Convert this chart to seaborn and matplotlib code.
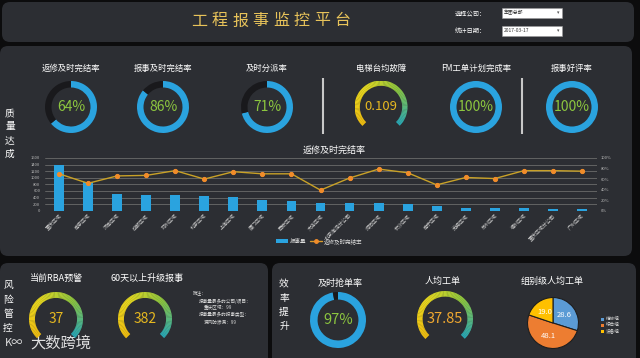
import numpy as np
import pandas as pd
import matplotlib
matplotlib.use('Agg')
import matplotlib.pyplot as plt
import seaborn as sns
from matplotlib.patches import FancyBboxPatch, Wedge, Rectangle
from matplotlib.colors import LinearSegmentedColormap

# ---------------- data ----------------
regions = ["重庆区域", "南京区域", "济南区域", "成都区域", "郑州区域", "北京区域",
           "上海区域", "厦门区域", "西安区域", "大连区域", "北京海淀分公司", "沈阳区域",
           "长沙区域", "南宁区域", "无锡区域", "苏州区域", "福州区域", "重庆区域分公司",
           "广州区域"]
report_counts = [1390, 857, 520, 490, 480, 440, 420, 327, 296, 245, 245, 225,
                 195, 143, 80, 80, 90, 60, 50]
repair_rate = [70, 52, 66, 67, 76, 60, 74, 70, 70, 39, 62, 79, 72, 49, 63,
               61, 76, 76, 75]
left_ticks = [0, 200, 400, 600, 800, 1000, 1200, 1400, 1600]
right_ticks = [0, 20, 40, 60, 80, 100]

quality_titles = ["返修及时完结率", "报事及时完结率", "及时分派率", "FM工单计划完成率", "报事好评率"]
quality_values = [64, 86, 71, 100, 100]
elevator_title = "电梯台均故障"
elevator_value = "0.109"

risk_titles = ["当前RBA预警", "60天以上升级报事"]
risk_values = ["37", "382"]
note_lines = ["附注：", "报事量最多的公司/项目：", "重庆区域：99",
              "报事量最多的报事类型：", "漏风防渗漏：99"]

grab_title = "及时抢单率"
grab_value = 97
avg_title = "人均工单"
avg_value = "37.85"
pie_title = "组别级人均工单"
pie_groups = ["维修组", "综合组", "设备组"]
pie_values = [28.6, 48.1, 19.0]

# ---------------- style ----------------
sns.set_theme(style='dark')
plt.rcParams['font.family'] = ['Noto Sans CJK SC', 'DejaVu Sans']

W, H = 640, 358
fig = plt.figure(figsize=(6.4, 3.58), dpi=100)
fig.patch.set_facecolor('#0c0c0d')

PANEL = '#2c2e33'
BLUE = '#2aa3df'
DARK = '#19191c'
GREEN_TXT = '#8cc63f'
GOLD_TXT = '#e6b820'

bg = fig.add_axes([0, 0, 1, 1])
bg.set_xlim(0, W)
bg.set_ylim(H, 0)
bg.axis('off')
bg.set_facecolor('none')


def panel(x0, y0, x1, y1, r=8):
    bg.add_patch(FancyBboxPatch((x0 + r, y0 + r), x1 - x0 - 2 * r, y1 - y0 - 2 * r,
                                boxstyle=f"round,pad={r}", fc=PANEL, ec='none'))


panel(2, 2, 634, 42)
panel(0, 46, 632, 256)
panel(0, 263, 268, 370)
panel(272, 263, 636, 370)

# header title (letter spaced)
title = "工程报事监控平台"
for i, ch in enumerate(title):
    bg.text(199 + i * 20.5, 21, ch, color='#e8c35a', fontsize=11.5, ha='center', va='center')

bg.text(455, 13, "选择公司：", color='white', fontsize=4.5, va='center')
bg.text(455, 31, "统计日期：", color='white', fontsize=4.5, va='center')
for y, txt in [(13, "集团总部"), (31, "2017-03-17")]:
    bg.add_patch(Rectangle((502, y - 5), 60, 10, fc='white', ec='#999', lw=0.4))
    bg.text(504, y, txt, color='#333', fontsize=3.5, va='center')
    bg.text(558, y, "▾", color='#555', fontsize=3.5, va='center', ha='center')

# vertical section labels
for i, ch in enumerate("质量达成"):
    bg.text(10, 113 + i * 13.5, ch, color='white', fontsize=7, ha='center', va='center')
for i, ch in enumerate("风险管控"):
    bg.text(8, 285 + i * 14.5, ch, color='white', fontsize=7, ha='center', va='center')
for i, ch in enumerate("效率提升"):
    bg.text(284, 284 + i * 14, ch, color='white', fontsize=7, ha='center', va='center')

# separators
for x in (323, 522):
    bg.plot([x, x], [78, 134], color='#c8c8c8', lw=1.5, solid_capstyle='butt')


def circle_ax(cx, cy, r):
    a = fig.add_axes([(cx - r) / W, 1 - (cy + r) / H, 2 * r / W, 2 * r / H])
    a.set_xlim(-1, 1)
    a.set_ylim(-1, 1)
    a.set_aspect('equal')
    a.axis('off')
    a.set_facecolor('none')
    return a


def donut(cx, cy, r, val, width=0.25, size=10):
    a = circle_ax(cx, cy, r)
    a.pie([val, 100 - val], colors=[BLUE, DARK], startangle=90, counterclock=False,
          radius=1, wedgeprops=dict(width=width, edgecolor='none'))
    a.set_xlim(-1, 1)
    a.set_ylim(-1, 1)
    a.text(0, 0, f"{val}%", color=GREEN_TXT, fontsize=size, ha='center', va='center')
    return a


gcmap = LinearSegmentedColormap.from_list('g', ['#eebc10', '#e9d81e', '#8cc63f', '#2aa8b4'])


def gauge(cx, cy, r, txt, width=0.22, size=10, color=GOLD_TXT):
    a = circle_ax(cx, cy, r)
    N = 90
    for k in range(N):
        t1 = 225 - 270 * k / N
        t0 = 225 - 270 * (k + 1) / N
        a.add_patch(Wedge((0, 0), 1, t0, t1 + 0.6, width=width, fc=gcmap(k / (N - 1)), ec='none'))
    a.text(0, 0, txt, color=color, fontsize=size, ha='center', va='center')
    return a


# top row
top_x = [71, 163, 267, 476, 572]
for x, t, v in zip(top_x, quality_titles, quality_values):
    bg.text(x, 68, t, color='white', fontsize=6, ha='center', va='center')
    donut(x, 107, 26, v)
bg.text(381, 68, elevator_title, color='white', fontsize=6, ha='center', va='center')
gauge(381, 107, 26.5, elevator_value, width=0.2, size=9.5)

# ---------------- bar + line chart ----------------
bg.text(334, 150, "返修及时完结率", color='white', fontsize=6.5, ha='center', va='center')
df = pd.DataFrame({'区域': regions, '报事量': report_counts, '完结率': repair_rate})
df['pos'] = np.arange(len(df))

ax = fig.add_axes([44.5 / W, 1 - 210.7 / H, 552 / W, 52.7 / H])
ax.set_facecolor('none')
for t in left_ticks:
    ax.axhline(t, color='#6b6b6b', lw=0.6, zorder=0)
sns.barplot(data=df, x='区域', y='报事量', color=BLUE, saturation=1, width=0.34, ax=ax,
            zorder=2, edgecolor='none', linewidth=0)
ax.set_xlim(-0.5, len(df) - 0.5)
ax.set_ylim(0, 1600)
ax.set_yticks(left_ticks)
ax.set_yticklabels([str(t) for t in left_ticks])
ax.tick_params(axis='y', labelsize=3, colors='#bbbbbb', length=0, pad=3)
ax.tick_params(axis='x', labelsize=3.6, colors='#cccccc', length=0, pad=2)
plt.setp(ax.get_xticklabels(), rotation=45, ha='right', rotation_mode='anchor')
ax.set_xlabel('')
ax.set_ylabel('')
ax.grid(False)
for s in ax.spines.values():
    s.set_visible(False)

ax2 = ax.twinx()
sns.lineplot(data=df, x='pos', y='完结率', ax=ax2, color='#c9a227', lw=1,
             marker='o', markersize=3, markerfacecolor='#f08c2a', markeredgecolor='#f08c2a',
             legend=False)
ax2.set_ylim(0, 100)
ax2.set_yticks(right_ticks)
ax2.set_yticklabels([f"{t}%" for t in right_ticks])
ax2.tick_params(axis='y', labelsize=3, colors='#bbbbbb', length=0, pad=3)
ax2.set_ylabel('')
ax2.set_xlabel('')
ax2.grid(False)
ax2.set_facecolor('none')
for s in ax2.spines.values():
    s.set_visible(False)
ax2.set_xlim(-0.5, len(df) - 0.5)

# legend
bg.add_patch(Rectangle((276, 239), 12, 4, fc=BLUE, ec='none'))
bg.text(290, 241, "报事量", color='#dddddd', fontsize=4, va='center')
bg.plot([310, 322], [241, 241], color='#d99a2a', lw=1)
bg.plot([316], [241], 'o', color='#f08c2a', ms=2.5)
bg.text(324, 241, "返修及时完结率", color='#dddddd', fontsize=4, va='center')

# ---------------- risk panel ----------------
for x, t, v in zip([57, 147], risk_titles, risk_values):
    bg.text(x, 278, t, color='white', fontsize=6.5, ha='center', va='center')
gauge(56, 319, 27, risk_values[0], width=0.22, size=10)
gauge(145, 319, 27, risk_values[1], width=0.22, size=10)
note_pos = [(193, 293), (199, 301), (204, 308), (199, 315), (204, 322)]
for (x, y), t in zip(note_pos, note_lines):
    bg.text(x, y, t, color='#dddddd', fontsize=3.3, va='center')
bg.text(30, 343, "大数跨境", color='white', alpha=0.85, fontsize=11, va='center')
bg.text(5, 343, "K∞", color='white', alpha=0.85, fontsize=8, va='center')

# ---------------- efficiency panel ----------------
bg.text(340, 283, grab_title, color='white', fontsize=6.5, ha='center', va='center')
donut(338, 320, 28, grab_value, width=0.27, size=10.5)
bg.text(443, 281, avg_title, color='white', fontsize=6.5, ha='center', va='center')
gauge(445, 319, 28, avg_value, width=0.2, size=10.5, color='#f0a830')
bg.text(552, 281, pie_title, color='white', fontsize=6.5, ha='center', va='center')

pie_colors = ['#5b9bd5', '#ed7d31', '#ffc000']
pa = circle_ax(553, 323, 26)
pa.pie(pie_values, colors=pie_colors, startangle=90, counterclock=False,
       labels=[f"{v:.1f}" for v in pie_values], labeldistance=0.55,
       textprops=dict(color='white', fontsize=5.5, ha='center', va='center'),
       wedgeprops=dict(edgecolor='#1e1e1e', linewidth=0.8))
pa.set_xlim(-1.02, 1.02)
pa.set_ylim(-1.02, 1.02)
for i, (g, c) in enumerate(zip(pie_groups, pie_colors)):
    y = 319 + i * 6
    bg.add_patch(Rectangle((601, y - 1.5), 3, 3, fc=c, ec='none'))
    bg.text(606, y, g, color='#dddddd', fontsize=3.3, va='center')

fig.savefig('out.png', dpi=100, facecolor=fig.get_facecolor())
